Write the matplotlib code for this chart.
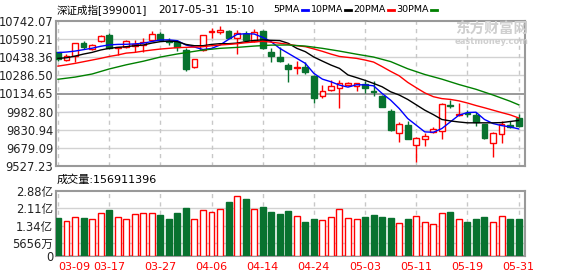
import matplotlib
matplotlib.use("Agg")
import matplotlib.pyplot as plt
from matplotlib.lines import Line2D
import numpy as np

plt.rcParams["font.family"] = ["DejaVu Sans", "Noto Sans CJK SC"]

RED = "#ff0000"
GREEN = "#08722f"

dates = ["03-09", "03-10", "03-13", "03-14", "03-15", "03-16", "03-17", "03-20", "03-21", "03-22",
         "03-23", "03-24", "03-27", "03-28", "03-29", "03-30", "03-31", "04-05", "04-06", "04-07",
         "04-10", "04-11", "04-12", "04-13", "04-14", "04-17", "04-18", "04-19", "04-20", "04-21",
         "04-24", "04-25", "04-26", "04-27", "04-28", "05-02", "05-03", "05-04", "05-05", "05-08",
         "05-09", "05-10", "05-11", "05-12", "05-15", "05-16", "05-17", "05-18", "05-19", "05-22",
         "05-23", "05-24", "05-25", "05-26", "05-31"]

opens = [10480, 10412, 10451, 10555, 10510, 10571, 10625, 10513, 10527, 10535,
         10541, 10580, 10630, 10574, 10569, 10501, 10353, 10496, 10650, 10653,
         10658, 10597, 10630, 10577, 10658, 10482, 10440, 10373, 10345, 10353,
         10280, 10110, 10160, 10177, 10205, 10196, 10213, 10157, 10110, 9992,
         9802, 9869, 9707, 9757, 9813, 9821, 10040, 9956, 9972, 9953,
         9877, 9723, 9793, 9872, 9933]
highs = [10486, 10462, 10557, 10574, 10546, 10625, 10644, 10527, 10583, 10580,
         10597, 10658, 10647, 10597, 10580, 10513, 10422, 10625, 10681, 10697,
         10664, 10664, 10658, 10675, 10664, 10513, 10524, 10392, 10407, 10401,
         10289, 10210, 10244, 10244, 10233, 10224, 10238, 10238, 10126, 10003,
         9897, 9908, 9774, 9807, 9858, 10051, 10079, 10051, 10000, 9981,
         9883, 9813, 9905, 9905, 9967]
lows = [10405, 10406, 10401, 10507, 10496, 10568, 10510, 10457, 10513, 10485,
        10479, 10574, 10574, 10541, 10490, 10322, 10351, 10490, 10602, 10630,
        10597, 10468, 10574, 10569, 10507, 10401, 10401, 10227, 10300, 10294,
        10059, 10098, 10157, 10014, 10199, 10154, 10143, 10110, 10020, 9824,
        9729, 9751, 9561, 9695, 9807, 9754, 10017, 9944, 9939, 9861,
        9754, 9603, 9723, 9849, 9855]
closes = [10420, 10448, 10555, 10524, 10538, 10616, 10515, 10521, 10577, 10549,
          10568, 10636, 10583, 10569, 10524, 10339, 10420, 10622, 10655, 10667,
          10602, 10644, 10583, 10647, 10518, 10451, 10407, 10342, 10353, 10311,
          10093, 10157, 10196, 10219, 10224, 10219, 10182, 10149, 10023, 9830,
          9877, 9757, 9765, 9782, 9841, 10045, 10031, 9967, 9961, 9897,
          9765, 9807, 9883, 9855, 9861]

# volume, 100 million shares (亿)
volumes = [1.68, 1.54, 1.71, 1.68, 1.63, 1.89, 2.04, 1.71, 1.63, 1.85,
           1.89, 1.89, 1.82, 1.64, 1.91, 2.13, 1.63, 2.02, 1.94, 2.07,
           2.39, 2.64, 2.53, 2.07, 2.17, 1.95, 1.86, 1.99, 1.76, 1.51,
           1.64, 1.58, 1.71, 2.07, 1.67, 1.63, 1.73, 1.82, 1.73, 1.68,
           1.45, 1.64, 1.76, 1.49, 1.40, 1.89, 1.95, 1.64, 1.51, 1.64,
           1.73, 1.49, 1.76, 1.64, 1.64]

ma5 = [10477, 10482, 10490, 10502, 10514, 10530, 10542, 10546, 10547, 10550,
       10556, 10570, 10583, 10584, 10577, 10541, 10524, 10503, 10512, 10541,
       10588, 10630, 10636, 10633, 10605, 10568, 10513, 10471, 10429, 10387,
       10303, 10255, 10233, 10205, 10188, 10208, 10207, 10199, 10135, 10079,
       10009, 9925, 9869, 9813, 9810, 9841, 9897, 9953, 9975, 9978,
       9917, 9883, 9866, 9855, 9838]
ma10 = [10429, 10434, 10448, 10465, 10479, 10499, 10513, 10521, 10527, 10535,
        10541, 10557, 10569, 10574, 10569, 10546, 10535, 10535, 10546, 10552,
        10552, 10557, 10569, 10580, 10583, 10580, 10578, 10555, 10513, 10485,
        10440, 10406, 10373, 10345, 10290, 10268, 10245, 10219, 10191, 10149,
        10122, 10085, 10040, 9995, 9958, 9917, 9905, 9896, 9889, 9889,
        9889, 9889, 9891, 9900, 9909]
ma20 = [10364, 10375, 10387, 10401, 10415, 10429, 10445, 10457, 10473, 10479,
        10490, 10499, 10507, 10513, 10519, 10521, 10524, 10527, 10535, 10541,
        10546, 10552, 10560, 10566, 10572, 10565, 10556, 10546, 10535, 10527,
        10508, 10488, 10465, 10445, 10437, 10429, 10415, 10398, 10360, 10320,
        10283, 10228, 10183, 10140, 10108, 10092, 10085, 10073, 10055, 10034,
        10015, 9995, 9975, 9956, 9930]
ma30_idx = [0, 2, 4, 6, 8, 10, 12, 14, 17, 19, 21, 23, 25, 27, 29, 31, 33, 35,
            37, 39, 41, 43, 45, 47, 49, 51, 53, 54]
ma30 = [10254, 10272, 10298, 10340, 10375, 10405, 10440, 10466, 10499, 10513,
        10521, 10532, 10540, 10541, 10532, 10513, 10490, 10464, 10440, 10402,
        10342, 10294, 10255, 10210, 10170, 10122, 10070, 10040]

price_ticks = [9527.23, 9679.09, 9830.94, 9982.80, 10134.65, 10286.50, 10438.36, 10590.21, 10742.07]
price_labels = ["9527.23", "9679.09", "9830.94", "9982.80", "10134.65", "10286.50",
                "10438.36", "10590.21", "10742.07"]
vol_ticks = [0, 0.5656, 1.34, 2.11, 2.88]
vol_labels = ["0", "5656万", "1.34亿", "2.11亿", "2.88亿"]

o = np.array(opens, dtype=float)
h = np.array(highs, dtype=float)
l = np.array(lows, dtype=float)
c = np.array(closes, dtype=float)
x = np.arange(len(c))
up = c >= o
edge = np.where(up, RED, GREEN)
face = np.where(up, "white", GREEN)

fig = plt.figure(figsize=(5.78, 2.76), dpi=100)
ax = fig.add_axes([56 / 578, 1 - 166 / 276, 469 / 578, 145 / 276])
axv = fig.add_axes([56 / 578, 1 - 256 / 276, 469 / 578, 65 / 276])

# price panel
for i, t in enumerate(price_ticks[1:-1], start=1):
    if i == 4:
        ax.axhline(t, color="#9a9a9a", lw=1.4, zorder=1)
    else:
        ax.axhline(t, color="#d2d2d2", lw=1, zorder=1)
for xi in range(0, len(x), 6):
    ax.axvline(xi, color="#c8c8c8", lw=1, ls=(0, (3, 3)), zorder=1)
    axv.axvline(xi, color="#c8c8c8", lw=1, ls=(0, (3, 3)), zorder=1)

ax.vlines(x, l, h, colors=edge, lw=1, zorder=2)
ax.bar(x, np.maximum(np.abs(c - o), 2), bottom=np.minimum(o, c), width=0.68,
       color=face, edgecolor=edge, lw=1, zorder=3)

ax.plot(x, ma5, color="#0000ff", lw=1, zorder=4)
ax.plot(x, ma10, color="black", lw=1, zorder=4)
ax.plot(x, ma20, color=RED, lw=1, zorder=4)
ax.plot(ma30_idx, ma30, color="#008000", lw=1, zorder=4)

ax.set_xlim(-0.23, 54.75)
ax.set_ylim(price_ticks[0], price_ticks[-1])
ax.set_yticks(price_ticks)
ax.set_yticklabels(price_labels)
ax.set_xticks([])

# volume panel
for t in vol_ticks[1:-1]:
    axv.axhline(t, color="#d2d2d2", lw=1, zorder=1)
axv.bar(x, volumes, width=0.7, color=face, edgecolor=edge, lw=1, zorder=3)
axv.set_xlim(-0.23, 54.75)
axv.set_ylim(0, 2.88)
axv.set_yticks(vol_ticks)
axv.set_yticklabels(vol_labels)
tick_pos = list(range(0, len(x), 6))
axv.set_xticks(tick_pos)
axv.set_xticklabels([dates[i] for i in tick_pos], color=RED)
axv.get_xticklabels()[0].set_horizontalalignment("left")

for a in (ax, axv):
    for s in a.spines.values():
        s.set_color("#999999")
        s.set_linewidth(1.5)
    a.tick_params(length=0, labelsize=8.3, colors="#222222", pad=2)
axv.tick_params(axis="x", labelsize=8, pad=4, labelcolor=RED)

# header
y_head = 1 - 10 / 276
fig.text(57 / 578, y_head, "深证成指[399001]", fontsize=7.6, va="center")
fig.text(158 / 578, y_head, "2017-05-31", fontsize=7.6, va="center")
fig.text(225 / 578, y_head, "15:10", fontsize=7.6, va="center")
legend = [("5PMA", 301, "#0000ff"), ("10PMA", 344, "black"),
          ("20PMA", 387, RED), ("30PMA", 430, "#008000")]
for name, lx, col in legend:
    fig.text((lx - 1) / 578, y_head, name, fontsize=6.8, va="center", ha="right")
    fig.add_artist(Line2D([(lx + 1) / 578, (lx + 7) / 578], [y_head, y_head],
                          color=col, lw=2, transform=fig.transFigure))

fig.text(57 / 578, 1 - 180 / 276, "成交量:156911396", fontsize=8, va="center")

# watermark
fig.text(455 / 578, 1 - 29 / 276, "东方财富网", fontsize=10.5, weight="bold",
         color="#cfcfcf", va="center")
fig.text(455 / 578, 1 - 42 / 276, "eastmoney.com", fontsize=6, weight="bold",
         color="#cfcfcf", va="center")

fig.savefig("out.png", dpi=100)
